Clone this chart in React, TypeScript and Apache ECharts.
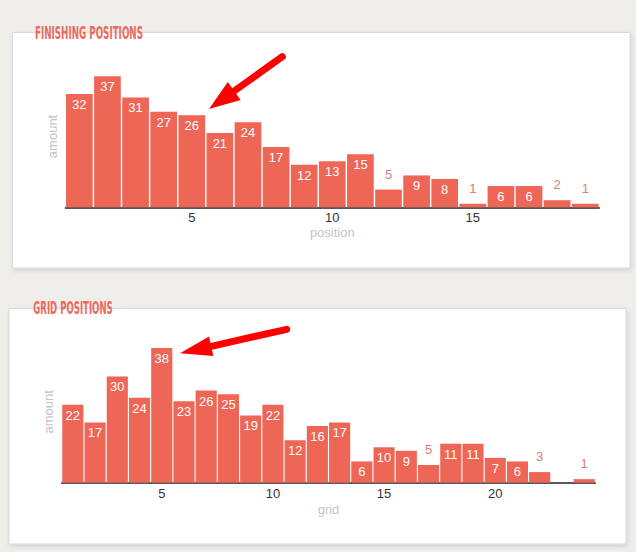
import React, { useEffect, useRef } from "react";
import * as echarts from "echarts";

const finishCategories = ["1","2","3","4","5","6","7","8","9","10","11","12","13","14","15","16","17","18","19"];
const finishValues = [32, 37, 31, 27, 26, 21, 24, 17, 12, 13, 15, 5, 9, 8, 1, 6, 6, 2, 1];

const gridCategories = ["1","2","3","4","5","6","7","8","9","10","11","12","13","14","15","16","17","18","19","20","21","22","23","24"];
const gridValues: (number | null)[] = [22, 17, 30, 24, 38, 23, 26, 25, 19, 22, 12, 16, 17, 6, 10, 9, 5, 11, 11, 7, 6, 3, null, 1];

const titles = ["FINISHING POSITIONS", "GRID POSITIONS"];
const yName = "amount";
const xNames = ["position", "grid"];

const BAR = "#ee6656";
const OUT_LABEL = "#e07b7b";
const TITLE_FONT = "'Liberation Sans Narrow','DejaVu Sans Condensed','Arial Narrow',sans-serif";

function measure(text: string, font: string): number {
  const c = document.createElement("canvas");
  const ctx = c.getContext("2d");
  if (!ctx) return 100;
  ctx.font = font;
  return ctx.measureText(text).width;
}

function toData(vals: (number | null)[]) {
  return vals.map((v) =>
    v == null
      ? null
      : v < 6
      ? { value: v, label: { position: "top", distance: 9, color: OUT_LABEL } }
      : v
  );
}

export default function App() {
  const ref = useRef<HTMLDivElement>(null);
  useEffect(() => {
    if (!ref.current) return;
    const chart = echarts.init(ref.current, undefined, { renderer: "svg" });
    const tFont = "bold 17px " + TITLE_FONT;
    const w1 = measure(titles[0], tFont);
    const w2 = measure(titles[1], tFont);
    const s1 = 108 / w1;
    const s2 = 79.4 / w2;

    const xAxisCommon = (data: string[], name: string, gap: number) => ({
      type: "category",
      data,
      name,
      nameLocation: "middle",
      nameGap: gap,
      nameTextStyle: { color: "#c4c4c4", fontSize: 13, fontFamily: "Arial, 'Liberation Sans', sans-serif" },
      axisLine: { show: true, lineStyle: { color: "#222", width: 1.5 } },
      axisTick: { show: false },
      axisLabel: {
        interval: (_i: number, v: string) => Number(v) % 5 === 0,
        color: "#333",
        fontSize: 13,
        margin: 4,
        fontFamily: "Arial, 'Liberation Sans', sans-serif",
      },
      splitLine: { show: false },
    });
    const yAxisCommon = (gap: number) => ({
      type: "value",
      min: 0,
      max: 40,
      name: yName,
      nameLocation: "middle",
      nameGap: gap,
      nameTextStyle: { color: "#c4c4c4", fontSize: 13, fontFamily: "Arial, 'Liberation Sans', sans-serif" },
      axisLine: { show: false },
      axisTick: { show: false },
      axisLabel: { show: false },
      splitLine: { show: false },
    });
    const seriesCommon = {
      type: "bar",
      barCategoryGap: "5%",
      itemStyle: { color: BAR },
      label: {
        show: true,
        position: "insideTop",
        distance: 4,
        color: "#fff",
        fontSize: 13,
        fontFamily: "Arial, 'Liberation Sans', sans-serif",
      },
    };

    const arrow = (tail: number[], tip: number[], back: number[], c1: number[], c2: number[]) => [
      {
        type: "line",
        z: 100,
        shape: { x1: tail[0], y1: tail[1], x2: back[0], y2: back[1] },
        style: { stroke: "#ff0000", lineWidth: 7, lineCap: "round" },
      },
      {
        type: "polygon",
        z: 100,
        shape: { points: [tip, c1, c2] },
        style: { fill: "#ff0000" },
      },
    ];

    chart.setOption({
      animation: false,
      backgroundColor: "#efeeeb",
      grid: [
        { left: 65.3, right: 36.7, top: 65.6, height: 141.7 },
        { left: 61.7, right: 40.7, top: 341, height: 141.7 },
      ],
      xAxis: [
        { ...xAxisCommon(finishCategories, xNames[0], 19), gridIndex: 0 },
        { ...xAxisCommon(gridCategories, xNames[1], 20), gridIndex: 1 },
      ],
      yAxis: [
        { ...yAxisCommon(6), gridIndex: 0 },
        { ...yAxisCommon(7), gridIndex: 1 },
      ],
      series: [
        { ...seriesCommon, xAxisIndex: 0, yAxisIndex: 0, data: toData(finishValues) },
        { ...seriesCommon, xAxisIndex: 1, yAxisIndex: 1, data: toData(gridValues) },
      ],
      graphic: [
        {
          type: "rect",
          z: -10,
          shape: { x: 12.5, y: 32.5, width: 617.5, height: 235.5 },
          style: { fill: "#fff", stroke: "#d9d9d9", lineWidth: 1, shadowBlur: 4, shadowOffsetX: 1, shadowOffsetY: 2, shadowColor: "rgba(0,0,0,0.12)" },
        },
        {
          type: "rect",
          z: -10,
          shape: { x: 9, y: 308.5, width: 617, height: 235.5 },
          style: { fill: "#fff", stroke: "#d9d9d9", lineWidth: 1, shadowBlur: 4, shadowOffsetX: 1, shadowOffsetY: 2, shadowColor: "rgba(0,0,0,0.12)" },
        },
        {
          type: "text",
          z: 50,
          x: 35,
          y: 32.3,
          scaleX: s1,
          scaleY: 1.05,
          style: { text: titles[0], x: 0, y: 0, font: tFont, fill: "#ec6a5e", align: "left", verticalAlign: "middle" },
        },
        {
          type: "text",
          z: 50,
          x: 33.3,
          y: 307.6,
          scaleX: s2,
          scaleY: 1.05,
          style: { text: titles[1], x: 0, y: 0, font: tFont, fill: "#ec6a5e", align: "left", verticalAlign: "middle" },
        },
        ...arrow([282.3, 56.7], [209, 109], [234.2, 91], [240.6, 100], [227.8, 82]),
        ...arrow([286.7, 329.3], [180, 353.3], [211.2, 346.3], [213.4, 356.1], [209, 336.6]),
      ],
    });
    return () => chart.dispose();
  }, []);
  return <div ref={ref} style={{ position: "absolute", left: 0, top: 0, width: 636, height: 552 }} />;
}
